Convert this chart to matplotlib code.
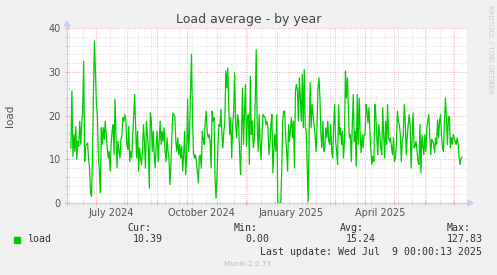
import matplotlib
matplotlib.use('Agg')
import matplotlib.pyplot as plt
import matplotlib.dates as mdates
from matplotlib.patches import Polygon, Rectangle
from datetime import datetime, timedelta
import numpy as np

# daily load values in consecutive chunks
load_a = [12.6, 25.6, 10.7, 15.6, 11.8, 17.5, 9.9, 14.1, 13.0, 18.7, 13.4, 17.9, 21.0, 32.4, 9.5,
          13.0, 13.4, 13.7, 10.3, 8.0, 2.3, 1.5, 10.3, 25.6, 37.0, 29.4, 22.5, 20.2, 11.0, 7.3,
          2.3, 17.2, 13.4, 17.2, 14.5, 18.7, 15.6, 12.6, 10.3, 11.8, 7.3, 13.4, 16.4, 17.9, 11.0,
          23.7, 15.3, 8.0, 14.1, 11.8, 10.3, 14.5, 15.6, 19.5, 18.7]
load_b = [20.2, 19.0, 13.4, 12.2, 17.5, 9.5, 11.8, 10.3, 15.6, 19.5, 24.8, 17.9, 10.3, 16.4, 7.3,
          12.6, 10.3, 8.8, 11.8, 17.9, 14.1, 8.0, 18.7, 15.6, 12.6, 3.4, 20.6, 19.0, 11.8, 16.4,
          11.0, 8.0, 13.4, 16.4, 9.5, 14.1, 18.7, 13.4, 16.4, 14.1, 17.2, 11.8, 9.5, 14.9, 11.8,
          10.3, 4.2, 8.8, 15.6, 20.6, 20.2, 19.8, 14.1, 11.8, 14.9, 11.0, 13.4, 10.3]
load_c = [13.0, 7.3, 11.0, 16.4, 6.5, 10.3, 23.7, 11.8, 15.6, 25.6, 34.0, 19.5, 11.5, 10.3, 11.0,
          9.5, 7.3, 4.6, 10.3, 11.0, 8.0, 16.4, 14.5, 13.4, 18.7, 21.0, 16.4, 14.9, 15.6, 14.1,
          8.0, 21.0, 18.7, 19.5, 5.7, 1.1, 6.1, 13.4, 17.9, 17.5, 21.4, 15.6, 12.6, 16.4, 18.7,
          30.2, 26.3, 30.9, 21.8, 15.6, 19.5, 10.3, 17.9, 21.0, 29.8, 17.9, 14.9, 20.2, 18.7]
load_d = [11.8, 6.5, 15.6, 26.3, 13.4, 20.2, 27.1, 13.0, 19.5, 20.2, 8.8, 29.0, 15.6, 18.7, 12.6,
          14.5, 23.3, 35.1, 17.9, 11.8, 20.2, 13.4, 9.9, 16.4, 20.2, 19.8, 19.5, 17.9, 18.7, 17.2,
          11.0, 13.4, 17.9, 20.2, 6.9, 11.8, 15.6, 11.8, 20.2, 0.0, 0.0, 0.0, 0.0, 7.3, 18.7,
          21.0, 21.0, 15.6, 11.8, 7.3, 17.9, 14.1, 17.2, 19.5, 14.9, 18.7, 8.0, 25.6, 27.1]
load_e = [26.0, 18.7, 28.6, 24.0, 18.7, 29.4, 17.2, 30.5, 17.5, 16.4, 8.8, 0.4, 15.6, 27.5, 17.2,
          22.5, 20.2, 17.9, 15.6, 11.8, 17.2, 26.3, 28.6, 24.0, 15.6, 12.6, 18.7, 11.8, 12.6, 17.2,
          14.9, 18.7, 14.1, 13.4, 17.9, 11.8, 10.3, 17.9, 22.5, 14.1, 11.8, 8.8, 22.5, 15.6, 17.2,
          13.4, 16.4, 10.3, 14.1, 30.2, 24.0, 28.6, 21.8, 14.9, 15.6, 9.5, 17.9, 24.8]
load_f = [14.1, 16.4, 8.4, 24.8, 13.4, 24.0, 15.6, 11.5, 15.6, 12.6, 15.6, 15.6, 22.5, 21.0, 18.3,
          21.8, 16.4, 11.8, 8.8, 10.7, 9.5, 22.5, 20.2, 14.9, 11.0, 17.9, 15.6, 12.6, 11.0, 21.8,
          15.6, 10.3, 18.7, 13.4, 22.5, 14.9, 14.1, 14.9, 12.6, 11.0, 14.9, 9.5, 10.3, 13.4, 21.0,
          18.7, 17.9, 15.6, 9.5, 14.1, 15.6, 22.5, 18.7, 11.0, 14.9, 17.9, 20.2, 17.9]
load_g = [8.0, 14.9, 20.6, 12.6, 13.0, 14.1, 11.8, 9.5, 8.8, 17.9, 6.9, 15.6, 13.4, 11.0, 15.6,
          11.8, 17.2, 18.7, 20.2, 15.6, 11.0, 14.5, 14.1, 13.4, 11.5, 14.9, 13.4, 19.0, 14.9, 18.7,
          20.2, 15.6, 12.6, 11.8, 18.7, 24.0, 19.5, 13.4, 19.5, 19.8, 12.6, 14.9, 13.4, 15.6, 14.9,
          14.1, 13.4, 14.9, 13.4, 10.3, 8.8, 10.3, 10.39]

month_labels = ['July 2024', 'October 2024', 'January 2025', 'April 2025']
label_dates = [datetime(2024, 7, 16), datetime(2024, 10, 16), datetime(2025, 1, 16), datetime(2025, 4, 16)]
stat_names = ['Cur:', 'Min:', 'Avg:', 'Max:']
stat_values = ['10.39', '0.00', '15.24', '127.83']
last_update = 'Last update: Wed Jul  9 00:00:13 2025'

load = np.array(load_a + load_b + load_c + load_d + load_e + load_f + load_g)
end = datetime(2025, 7, 9)
dates = [end - timedelta(days=len(load) - 1 - i) for i in range(len(load))]

W, H = 497, 275
def fx(px):
    return px / W
def fy(py):
    return 1 - py / H

red = '#EAA8A8'
grey = '#D8D8D8'
axcol = '#C8CEF4'
dots = (0, (0.72, 1.44))

fig = plt.figure(figsize=(W / 100, H / 100), dpi=100, facecolor='#F0F0F0')
ax = fig.add_axes([fx(67), fy(203), 400 / W, 175 / H])
ax.set_facecolor('white')

x0 = mdates.date2num(datetime(2024, 7, 1)) - 25.3
ax.set_xlim(x0, x0 + 400)
ax.set_ylim(0, 40)

# grid
months = [datetime(2024, m, 1) for m in range(6, 13)] + [datetime(2025, m, 1) for m in range(1, 8)]
fortnights = [datetime(2024, 7, 1) + timedelta(days=14 * k) for k in range(-2, 28)]
ax.set_xticks(mdates.date2num(months))
ax.set_xticks(mdates.date2num(fortnights), minor=True)
ax.set_yticks(range(0, 41, 10))
ax.set_yticks(range(0, 41, 2), minor=True)
ax.xaxis.set_major_formatter(plt.NullFormatter())
ax.grid(which='minor', color=grey, linestyle=dots, linewidth=0.75, zorder=0)
ax.grid(which='major', color=red, linestyle=dots, linewidth=0.75, zorder=0)
ax.tick_params(axis='x', which='major', length=3, direction='inout', color=red, width=0.75)
ax.tick_params(axis='x', which='minor', length=3, direction='inout', color=grey, width=0.75)
ax.tick_params(axis='y', which='major', length=3, direction='inout', color=red, width=0.75,
               labelsize=7, labelcolor='#555555', pad=3)
ax.tick_params(axis='y', which='minor', length=3, direction='inout', color=grey, width=0.75)
ax.set_axisbelow(True)

for s in ['top', 'right']:
    ax.spines[s].set_visible(False)
for s in ['left', 'bottom']:
    ax.spines[s].set_color(axcol)
    ax.spines[s].set_linewidth(0.8)

ax.plot(mdates.date2num(dates), load, color='#00CC00', linewidth=0.9, zorder=3)

for lab, d in zip(month_labels, label_dates):
    ax.text(mdates.date2num(d), fy(212.5), lab, transform=ax.get_xaxis_transform(),
            ha='center', va='center', fontsize=7, color='#555555')
# move month labels into figure-based y
for t in ax.texts:
    t.set_transform(matplotlib.transforms.blended_transform_factory(ax.transData, fig.transFigure))

# axis arrows
fig.lines.append(plt.Line2D([fx(67), fx(67)], [fy(203), fy(24)], transform=fig.transFigure,
                            color=axcol, linewidth=0.8))
fig.lines.append(plt.Line2D([fx(67), fx(470)], [fy(203), fy(203)], transform=fig.transFigure,
                            color=axcol, linewidth=0.8))
fig.patches.append(Polygon([[fx(64.3), fy(26)], [fx(69.7), fy(26)], [fx(67), fy(21)]],
                           closed=True, transform=fig.transFigure, color=axcol))
fig.patches.append(Polygon([[fx(468), fy(200.3)], [fx(468), fy(205.7)], [fx(473), fy(203)]],
                           closed=True, transform=fig.transFigure, color=axcol))

fig.text(0.5, fy(19.5), 'Load average - by year', ha='center', va='center', fontsize=9, color='#444444')
fig.text(fx(10), fy(115.5), 'load', rotation=90, ha='center', va='center', fontsize=7.5, color='#555555')
fig.text(fx(490), fy(5), 'RRDTOOL / TOBI OETIKER', rotation=270, ha='center', va='top',
         fontsize=5, color='#C8C8C8')

mono = 'DejaVu Sans Mono'
fig.patches.append(Rectangle((fx(14), fy(242.7)), 6 / W, 5.7 / H, transform=fig.transFigure,
                             color='#00CC00'))
fig.text(fx(26.7), fy(239.5), 'load', family=mono, fontsize=7.15, ha='left', va='center', color='#333333')
name_x = [127.7, 234, 340, 446.7]
val_x = [162.7, 269.5, 376, 482.5]
for n, v, nx, vx in zip(stat_names, stat_values, name_x, val_x):
    fig.text(fx(nx), fy(227.7), n, family=mono, fontsize=7.15, ha='left', va='center', color='#333333')
    fig.text(fx(vx), fy(239.5), v, family=mono, fontsize=7.15, ha='right', va='center', color='#333333')
fig.text(fx(482.5), fy(251.7), last_update, family=mono, fontsize=7.15, ha='right', va='center',
         color='#333333')
fig.text(fx(248), fy(264), 'Munin 2.0.73', ha='center', va='center', fontsize=5.2, color='#BBBBBB')

fig.savefig('out.png', dpi=100, facecolor=fig.get_facecolor())
